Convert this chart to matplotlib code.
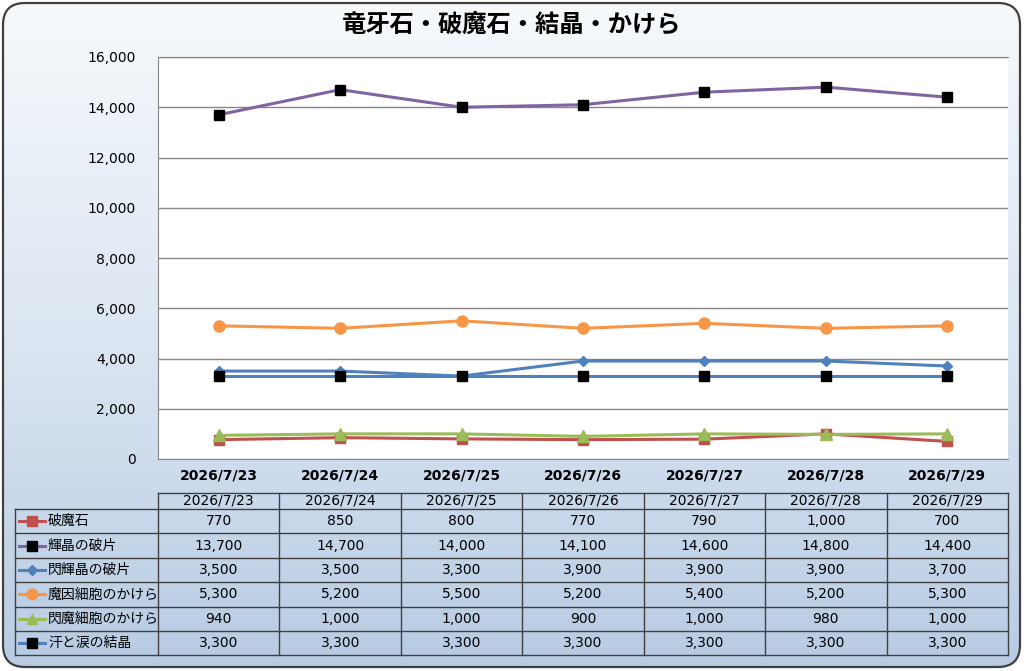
import numpy as np
import matplotlib
matplotlib.use("Agg")
import matplotlib.pyplot as plt
from matplotlib.patches import FancyBboxPatch
from matplotlib.lines import Line2D

plt.rcParams['font.family'] = ['DejaVu Sans', 'Noto Sans CJK JP']

# data
dates = ["2026/7/23", "2026/7/24", "2026/7/25", "2026/7/26",
         "2026/7/27", "2026/7/28", "2026/7/29"]
hamaseki = [770, 850, 800, 770, 790, 1000, 700]
kishou = [13700, 14700, 14000, 14100, 14600, 14800, 14400]
senkishou = [3500, 3500, 3300, 3900, 3900, 3900, 3700]
main_saibou = [5300, 5200, 5500, 5200, 5400, 5200, 5300]
senma_saibou = [940, 1000, 1000, 900, 1000, 980, 1000]
ase_namida = [3300, 3300, 3300, 3300, 3300, 3300, 3300]

series = [
    ("破魔石", hamaseki, "#C0504D", "s", "#C0504D"),
    ("輝晶の破片", kishou, "#8064A2", "s", "black"),
    ("閃輝晶の破片", senkishou, "#4F81BD", "D", "#4F81BD"),
    ("魔因細胞のかけら", main_saibou, "#F79646", "o", "#F79646"),
    ("閃魔細胞のかけら", senma_saibou, "#9BBB59", "^", "#9BBB59"),
    ("汗と涙の結晶", ase_namida, "#4F81BD", "s", "black"),
]
msizes = {"s": 7, "D": 5, "o": 8, "^": 8}

W, H = 1024, 671
fig = plt.figure(figsize=(W / 100, H / 100), dpi=100)

# background + table layer (pixel coords)
bg = fig.add_axes([0, 0, 1, 1], zorder=0)
bg.set_xlim(0, W)
bg.set_ylim(H, 0)
bg.axis("off")
grad = np.linspace(0, 1, 256).reshape(-1, 1)
cmap = matplotlib.colors.LinearSegmentedColormap.from_list(
    "bgc", ["#F6F9FC", "#DCE6F2", "#B7CBE3"])
border = FancyBboxPatch((3, 3), W - 7, H - 7, boxstyle="round,pad=0,rounding_size=22",
                        fc="none", ec="#404040", lw=1.6, zorder=5)
bg.add_patch(border)
bg.imshow(grad, extent=[0, W, H, 0], aspect="auto", cmap=cmap, zorder=0,
          clip_path=border)

bg.text(W / 2, 25, "竜牙石・破魔石・結晶・かけら", ha="center", va="center",
        fontsize=17.5, fontweight="bold", color="black",
        family=['Noto Sans CJK JP', 'DejaVu Sans'])

# main plot
pl, pr, pt, pb = 158, 1008, 57, 459
ax = fig.add_axes([pl / W, (H - pb) / H, (pr - pl) / W, (pb - pt) / H], zorder=2)
ax.set_facecolor("white")
x = np.arange(len(dates))
for name, vals, col, mk, mcol in series:
    ax.plot(x, vals, color=col, lw=2.2, marker=mk, ms=msizes[mk],
            mfc=mcol, mec=mcol, zorder=3)
ax.set_xlim(-0.5, len(dates) - 0.5)
ax.set_ylim(0, 16000)
ax.set_yticks(np.arange(0, 16001, 2000))
ax.set_yticklabels([f"{v:,}" for v in range(0, 16001, 2000)], fontsize=10)
ax.set_xticks(x)
ax.set_xticklabels(dates, fontsize=10, fontweight="bold")
ax.tick_params(length=0, pad=7)
ax.tick_params(axis="y", pad=16)
ax.grid(axis="y", color="#868686", lw=1)
ax.set_axisbelow(True)
for s in ax.spines.values():
    s.set_color("#868686")
ax.spines["right"].set_visible(False)

# data table
tl, tr = 15, 1008
ht, hb = 493, 509
row_h = 24.4
cw = (tr - pl) / len(dates)
lc = "#404040"
bg.plot([pl, tr], [ht, ht], color=lc, lw=1, zorder=4)
for i in range(len(dates) + 1):
    xx = pl + i * cw
    bg.plot([xx, xx], [ht, hb + row_h * len(series)], color=lc, lw=1, zorder=4)
for i, d in enumerate(dates):
    bg.text(pl + (i + 0.5) * cw, (ht + hb) / 2 - 1, d, ha="center", va="center", fontsize=10)
for r in range(len(series) + 1):
    yy = hb + r * row_h
    bg.plot([tl, tr], [yy, yy], color=lc, lw=1, zorder=4)
bg.plot([tl, tl], [hb, hb + row_h * len(series)], color=lc, lw=1, zorder=4)
for r, (name, vals, col, mk, mcol) in enumerate(series):
    yc = hb + (r + 0.5) * row_h
    bg.add_line(Line2D([19, 45], [yc, yc], color=col, lw=2.2, zorder=5))
    bg.add_line(Line2D([32], [yc], marker=mk, ms=msizes[mk] * 0.95, mfc=mcol, mec=mcol,
                       color=col, zorder=6))
    bg.text(48, yc, name, ha="left", va="center", fontsize=10)
    for i, v in enumerate(vals):
        bg.text(pl + (i + 0.5) * cw, yc, f"{v:,}", ha="center", va="center", fontsize=10)

fig.savefig("out.png", dpi=100)
